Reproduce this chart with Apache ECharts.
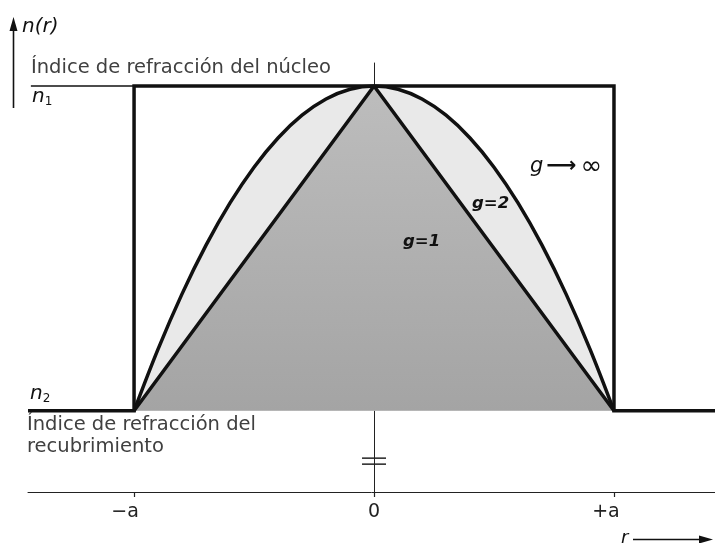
<!DOCTYPE html>
<html>
<head>
<meta charset="utf-8">
<script src="https://cdn.jsdelivr.net/npm/echarts@6/dist/echarts.min.js"></script>
<style>
  html, body { margin: 0; padding: 0; background: #fff; }
  #chart { width: 715px; height: 543px; }
</style>
</head>
<body>
<div id="chart"></div>
<script>
// Radius r in units of the core radius a; index n(r) normalised so n2 = 0 and n1 = 1.
const rGraded = [-1, -0.9, -0.8, -0.7, -0.6, -0.5, -0.4, -0.3, -0.2, -0.1, 0,
                 0.1, 0.2, 0.3, 0.4, 0.5, 0.6, 0.7, 0.8, 0.9, 1];
// g = 2 (parabolic profile)
const nParabolic = [0, 0.19, 0.36, 0.51, 0.64, 0.75, 0.84, 0.91, 0.96, 0.99, 1,
                    0.99, 0.96, 0.91, 0.84, 0.75, 0.64, 0.51, 0.36, 0.19, 0];
// g = 1 (triangular profile)
const rTriangular = [-1, 0, 1];
const nTriangular = [0, 1, 0];
// g -> infinity (step profile), including the cladding on both sides
const rStep = [-1.442, -1, -1, 1, 1, 1.421];
const nStep = [0, 0, 1, 1, 0, 0];
// short reference line marking the n1 level
const rCoreLevel = [-1.43, -1];
const nCoreLevel = [1, 1];
// radius ticks
const tickValues = [-1, 0, 1];
const tickLabels = ['−a', '0', '+a'];

const zip = (xs, ys) => xs.map((x, i) => [x, ys[i]]);

const chart = echarts.init(document.getElementById('chart'), null, { renderer: 'canvas' });

const FONT = 'DejaVu Sans';
const INK = '#111';
const TEXT = '#404040';

chart.setOption({
  animation: false,
  backgroundColor: '#fff',
  grid: { left: 28, right: 0, top: 63, bottom: 51, containLabel: false },
  xAxis: {
    type: 'value',
    min: -1.442,
    max: 1.421,
    axisLine: { onZero: false, lineStyle: { color: '#222', width: 1 } },
    axisTick: { show: true, customValues: tickValues, length: 5, lineStyle: { color: '#222', width: 1.2 } },
    axisLabel: {
      customValues: tickValues,
      margin: 11,
      fontFamily: FONT,
      fontSize: 19,
      color: '#222',
      formatter: v => {
        const i = tickValues.indexOf(v);
        const t = i >= 0 ? tickLabels[i] : '';
        if (v < 0) return '{l|' + t + '}';
        if (v > 0) return '{r|' + t + '}';
        return t;
      },
      rich: {
        l: { fontFamily: FONT, fontSize: 19, color: '#222', padding: [0, 18, 0, 0] },
        r: { fontFamily: FONT, fontSize: 19, color: '#222', padding: [0, 16, 0, 0] }
      }
    },
    splitLine: { show: false }
  },
  yAxis: {
    type: 'value',
    min: -0.25,
    max: 1.0708,
    axisLine: { show: true, onZero: true, lineStyle: { color: '#222', width: 1 } },
    axisTick: { show: false },
    axisLabel: { show: false },
    splitLine: { show: false }
  },
  series: [
    {
      name: 'g=2',
      type: 'line',
      data: zip(rGraded, nParabolic),
      smooth: 0.35,
      symbol: 'none',
      lineStyle: { color: INK, width: 3.5 },
      areaStyle: { color: '#e9e9e9', opacity: 1 },
      z: 2
    },
    {
      name: 'g=1',
      type: 'line',
      data: zip(rTriangular, nTriangular),
      symbol: 'none',
      lineStyle: { color: INK, width: 3.5 },
      areaStyle: {
        opacity: 1,
        color: new echarts.graphic.LinearGradient(0, 0, 0, 1, [
          { offset: 0, color: '#bdbdbd' },
          { offset: 1, color: '#a4a4a4' }
        ])
      },
      z: 3
    },
    {
      name: 'g→∞',
      type: 'line',
      data: zip(rStep, nStep),
      symbol: 'none',
      lineStyle: { color: INK, width: 3.5, join: 'miter', cap: 'butt' },
      z: 4
    },
    {
      name: 'n1',
      type: 'line',
      data: zip(rCoreLevel, nCoreLevel),
      symbol: 'none',
      lineStyle: { color: INK, width: 1.6 },
      z: 4
    }
  ]
});

// annotations placed from axis coordinates
const px = (r, n) => chart.convertToPixel({ gridIndex: 0 }, [r, n]);
const p0 = px(0, -0.155);
const Z = 100;

chart.setOption({
  graphic: [
    // n(r) axis arrow
    { type: 'line', z: Z, shape: { x1: 13.5, y1: 28, x2: 13.5, y2: 108 }, style: { stroke: INK, lineWidth: 1.6 } },
    { type: 'polygon', z: Z, shape: { points: [[9.5, 31], [13.5, 17], [17.5, 31]] }, style: { fill: INK } },
    { type: 'text', z: Z, x: 22, y: 27, style: { text: 'n(r)', font: 'italic 20px "' + FONT + '"', fill: INK, textVerticalAlign: 'middle' } },

    { type: 'text', z: Z, x: 31, y: 68, style: { text: 'Índice de refracción del núcleo', font: '19.5px "' + FONT + '"', fill: TEXT, textVerticalAlign: 'middle' } },
    {
      type: 'text', z: Z, x: 32, y: 97,
      style: {
        text: '{n|n}{s|1}', textVerticalAlign: 'middle',
        rich: {
          n: { font: 'italic 20px "' + FONT + '"', fill: INK },
          s: { font: '12px "' + FONT + '"', fill: INK, padding: [10, 0, 0, 0] }
        }
      }
    },
    {
      type: 'text', z: Z, x: 30, y: 394,
      style: {
        text: '{n|n}{s|2}', textVerticalAlign: 'middle',
        rich: {
          n: { font: 'italic 20px "' + FONT + '"', fill: INK },
          s: { font: '12px "' + FONT + '"', fill: INK, padding: [10, 0, 0, 0] }
        }
      }
    },
    { type: 'text', z: Z, x: 27, y: 425, style: { text: 'Índice de refracción del', font: '19.5px "' + FONT + '"', fill: TEXT, textVerticalAlign: 'middle' } },
    { type: 'text', z: Z, x: 27, y: 447, style: { text: 'recubrimiento', font: '19.5px "' + FONT + '"', fill: TEXT, textVerticalAlign: 'middle' } },

    // break marks on the n axis
    { type: 'line', z: Z, shape: { x1: p0[0] - 12, y1: p0[1] - 3, x2: p0[0] + 12, y2: p0[1] - 3 }, style: { stroke: '#222', lineWidth: 1.5 } },
    { type: 'line', z: Z, shape: { x1: p0[0] - 12, y1: p0[1] + 3, x2: p0[0] + 12, y2: p0[1] + 3 }, style: { stroke: '#222', lineWidth: 1.5 } },

    // r arrow
    { type: 'text', z: Z, x: 621, y: 538, style: { text: 'r', font: 'italic 18px "' + FONT + '"', fill: INK, textVerticalAlign: 'middle' } },
    { type: 'line', z: Z, shape: { x1: 633, y1: 539.5, x2: 703, y2: 539.5 }, style: { stroke: INK, lineWidth: 1.6 } },
    { type: 'polygon', z: Z, shape: { points: [[699, 535.5], [713, 539.5], [699, 543.5]] }, style: { fill: INK } },

    // profile labels
    {
      type: 'text', z: Z, x: 530, y: 167,
      style: {
        text: '{g|g}{a|⟶}{i|∞}', textVerticalAlign: 'middle',
        rich: {
          g: { font: 'italic 21px "' + FONT + '"', fill: INK },
          a: { font: 'bold 21px "' + FONT + '"', fill: INK, padding: [0, 4, 0, 3] },
          i: { font: '26px "' + FONT + '"', fill: INK }
        }
      }
    },
    { type: 'text', z: Z, x: 472, y: 204, style: { text: 'g=2', font: 'italic bold 16.5px "' + FONT + '"', fill: INK, textVerticalAlign: 'middle' } },
    { type: 'text', z: Z, x: 403, y: 242, style: { text: 'g=1', font: 'italic bold 16.5px "' + FONT + '"', fill: INK, textVerticalAlign: 'middle' } }
  ]
});
</script>
</body>
</html>
